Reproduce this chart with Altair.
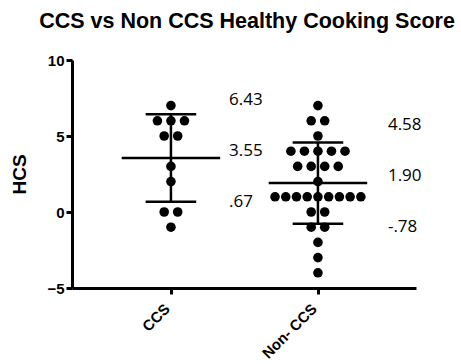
import altair as alt
import pandas as pd

# ---- data ----
groups = ["CCS", "Non- CCS"]
ccs_scores = [7, 6, 6, 6, 5, 5, 3, 2, 0, 0, -1]
non_ccs_scores = [7, 6, 6, 5, 4, 4, 4, 4, 4, 3, 3, 3, 3, 2,
                  1, 1, 1, 1, 1, 1, 1, 1, 1, 0, 0, -1, -1, -2, -3, -4]
means = [3.55, 1.90]
sd_high = [6.43, 4.58]
sd_low = [0.67, -0.78]
high_labels = ["6.43", "4.58"]
mean_labels = ["3.55", "1.90"]
low_labels = [".67", "-.78"]

rows = []
for gi, (g, vals) in enumerate(zip(groups, [ccs_scores, non_ccs_scores])):
    for v in vals:
        rows.append({"group": g, "gi": gi, "score": v})
points_df = pd.DataFrame(rows)

summary_df = pd.DataFrame({
    "group": groups,
    "gi": list(range(len(groups))),
    "mean": means,
    "hi": sd_high,
    "lo": sd_low,
    "hi_label": high_labels,
    "mean_label": mean_labels,
    "lo_label": low_labels,
})

x_scale = alt.Scale(domain=[-0.673, 1.667], nice=False, zero=False)
y_scale = alt.Scale(domain=[-5, 10], nice=False, zero=False)

x_axis = alt.Axis(values=[0, 1], labelExpr="datum.value == 0 ? 'CCS' : 'Non- CCS'",
                  labelAngle=-45, title=None, grid=False,
                  labelOffset=-9, labelPadding=7)
y_axis = alt.Axis(values=[-5, 0, 5, 10], title="HCS", grid=False)

points = alt.Chart(points_df).transform_window(
    rank="row_number()", groupby=["gi", "score"]
).transform_joinaggregate(
    n="count()", groupby=["gi", "score"]
).transform_calculate(
    xpos="datum.gi + (datum.rank - (datum.n + 1) / 2) * (datum.n > 6 ? 0.073 : 0.092)"
).mark_circle(size=92, color="black", opacity=1).encode(
    x=alt.X("xpos:Q", scale=x_scale, axis=x_axis),
    y=alt.Y("score:Q", scale=y_scale, axis=y_axis),
)

base = alt.Chart(summary_df)

mean_rule = base.transform_calculate(
    xa="datum.gi - 0.335", xb="datum.gi + 0.335"
).mark_rule(color="black", strokeWidth=2.5).encode(
    x="xa:Q", x2="xb:Q", y="mean:Q")

hi_rule = base.transform_calculate(
    xa="datum.gi - 0.172", xb="datum.gi + 0.172"
).mark_rule(color="black", strokeWidth=2.5).encode(
    x="xa:Q", x2="xb:Q", y="hi:Q")

lo_rule = base.transform_calculate(
    xa="datum.gi - 0.172", xb="datum.gi + 0.172"
).mark_rule(color="black", strokeWidth=2.5).encode(
    x="xa:Q", x2="xb:Q", y="lo:Q")

vert_rule = base.mark_rule(color="black", strokeWidth=2.5).encode(
    x="gi:Q", y="lo:Q", y2="hi:Q")

text_base = base.transform_calculate(
    tx="datum.gi + (datum.gi == 0 ? 0.395 : 0.476)")
text_style = dict(align="left", baseline="middle", font="Open Sans",
                  fontSize=17, color="black")
hi_text = text_base.mark_text(dy=-58, **text_style).encode(
    x="tx:Q", y="mean:Q", text="hi_label:N")
mean_text = text_base.mark_text(dy=-7, **text_style).encode(
    x="tx:Q", y="mean:Q", text="mean_label:N")
lo_text = text_base.mark_text(dy=44, **text_style).encode(
    x="tx:Q", y="mean:Q", text="lo_label:N")

chart = alt.layer(
    points, mean_rule, hi_rule, lo_rule, vert_rule, hi_text, mean_text, lo_text
).properties(
    width=344, height=228,
    title=alt.TitleParams("CCS vs Non CCS Healthy Cooking Score", anchor="middle",
                          font="Liberation Sans", fontSize=21.5, fontWeight="bold",
                          color="black", offset=21, dx=3),
    autosize=alt.AutoSizeParams(type="none"),
    padding={"left": 72, "top": 60, "right": 45, "bottom": 76},
).configure_view(stroke=None).configure_axis(
    domainColor="black", domainWidth=3, tickColor="black", tickWidth=3, tickSize=6,
    labelFont="Liberation Sans", labelFontWeight="bold", labelFontSize=15,
    labelColor="black", labelPadding=2,
    titleFont="Liberation Sans", titleFontWeight="bold", titleFontSize=19,
    titleColor="black", titlePadding=17,
)

chart.save("out.html", embed_options={"renderer": "svg", "actions": False})
